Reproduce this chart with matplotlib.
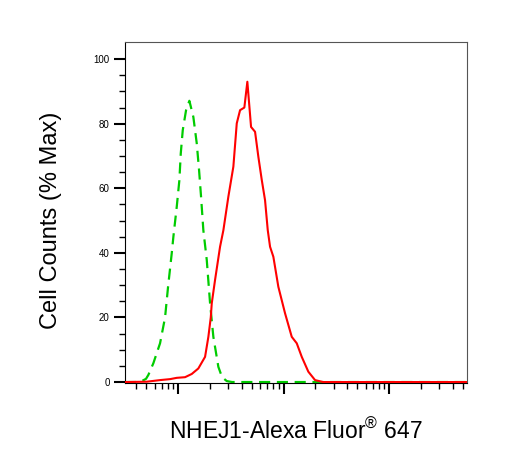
import matplotlib
matplotlib.use("Agg")
import matplotlib.pyplot as plt
from matplotlib.ticker import LogLocator, FixedLocator, NullFormatter

plt.rcParams['font.family'] = ['Liberation Sans', 'DejaVu Sans']
plt.rcParams['mathtext.fontset'] = 'custom'
plt.rcParams['mathtext.rm'] = 'Liberation Sans'

# isotype control (green dashed)
ctrl_x = [31.4, 43.6, 49.7, 52.3, 58.3, 67.5, 75.3, 80.4, 87.2, 90.3, 97.2,
          102.9, 106.1, 110.8, 119.1, 128, 139.6, 150.4, 158.2, 165.2, 173.7,
          187.1, 201.1, 216.1, 241, 261.3, 289.5, 325, 54860]
ctrl_y = [0, 0, 1, 2.2, 5.8, 12, 20, 29.5, 40, 45, 54.3,
          62.5, 70.8, 78, 84.2, 87.1, 82.1, 73.9, 65.6, 57.4, 47,
          37.8, 24.4, 14, 4.7, 1.5, 0.3, 0, 0]

# NHEJ1 stained (red solid)
stain_x = [31.4, 50.5, 67.5, 84, 97.2, 116.5, 134.9, 155.7, 180.3, 193.8,
           204.2, 208.7, 224.2, 250.1, 268.9, 299.8, 334.4, 360.1, 387.1, 425,
           453.8, 492, 537, 576.8, 621.5, 667.8, 708.6, 744.9, 800.5, 892.6,
           1033, 1196, 1334, 1488, 1718, 1989, 2368, 54860]
stain_y = [0, 0.1, 0.6, 0.9, 1.3, 1.5, 2.5, 4.2, 7.8, 14,
           20, 24.4, 31.6, 41.9, 47, 57.4, 66.7, 80.1, 84.2, 85,
           93, 79, 77.5, 69.8, 62.6, 56.3, 47, 41.9, 38.8, 29.5,
           21.3, 14, 12, 7.8, 3.2, 0.6, 0, 0]

y_major = [0, 20, 40, 60, 80, 100]
y_minor = [5, 10, 15, 25, 30, 35, 45, 50, 55, 65, 70, 75, 85, 90, 95]

fig = plt.figure(figsize=(5.05, 4.7), dpi=100)
ax = fig.add_axes([0.2475, 0.1851, 0.6773, 0.7255])

ax.plot(stain_x, stain_y, color='#ff0000', lw=1.5, zorder=3)
ax.plot(ctrl_x, ctrl_y, color='#00cc00', lw=1.6, dashes=(5, 3), zorder=2)

ax.set_xscale('log')
ax.set_xlim(31.4, 54860)
ax.set_ylim(-0.3, 105.3)

ax.xaxis.set_major_locator(FixedLocator([100, 1000, 10000]))
ax.xaxis.set_minor_locator(LogLocator(base=10, subs=range(2, 10), numticks=20))
ax.xaxis.set_major_formatter(NullFormatter())
ax.xaxis.set_minor_formatter(NullFormatter())

ax.yaxis.set_major_locator(FixedLocator(y_major))
ax.yaxis.set_minor_locator(FixedLocator(y_minor))

ax.tick_params(axis='both', which='major', direction='out', length=8, width=1.5,
               labelsize=7, pad=3)
ax.tick_params(axis='both', which='minor', direction='out', length=4, width=1)

for s in ax.spines.values():
    s.set_linewidth(0.8)
    s.set_color('#555555')
ax.spines['left'].set_color('black')
ax.spines['bottom'].set_color('black')

ax.set_ylabel('Cell Counts (% Max)', fontsize=17)
ax.yaxis.set_label_coords(-0.185, 0.478)
ax.set_xlabel('NHEJ1-Alexa Fluor$^{\\mathrm{®}}$ 647', fontsize=16.5, labelpad=15)

fig.savefig('out.png', dpi=100)
